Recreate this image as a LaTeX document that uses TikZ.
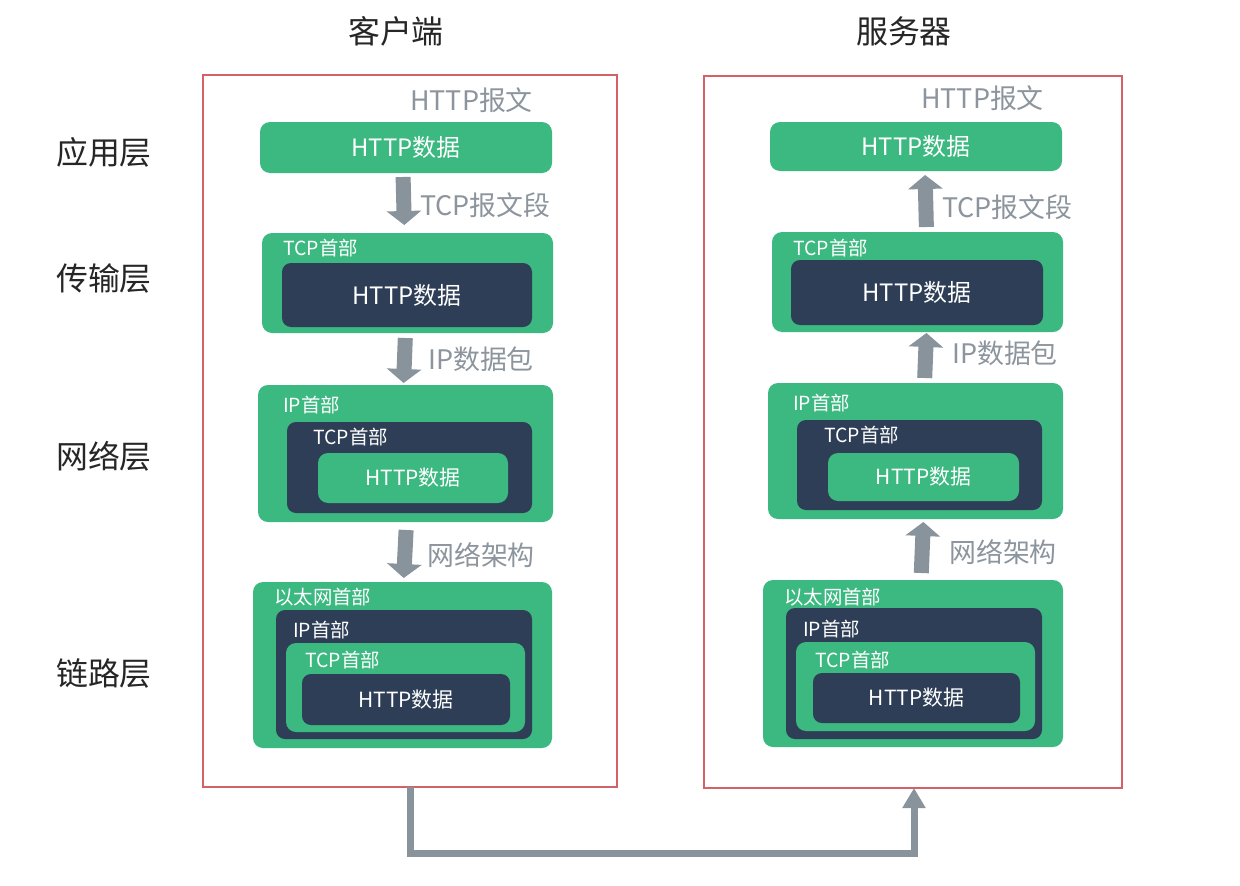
\documentclass[tikz,border=0pt]{standalone}
\usepackage{fontspec}
\setmainfont{Noto Sans CJK SC}
\usetikzlibrary{arrows.meta,calc}
\definecolor{gboxc}{RGB}{60,184,129}
\definecolor{dboxc}{RGB}{46,62,86}
\definecolor{redc}{RGB}{212,96,104}
\definecolor{greyc}{RGB}{136,147,156}
\definecolor{lblc}{RGB}{140,149,157}
\newcommand{\fs}[1]{\fontsize{#1}{#1}\selectfont}
\tikzset{
  boxbase/.style={rectangle, inner sep=0, outer sep=0, anchor=north west},
  gbox/.style={boxbase, fill=gboxc, rounded corners=10bp},
  dbox/.style={boxbase, fill=dboxc, rounded corners=9bp},
  framebox/.style={boxbase, draw=redc, line width=2.5bp},
  bigtxt/.style={text=white, font=\fs{24}},
  midtxt/.style={text=white, font=\fs{21}},
  smalltxt/.style={text=white, font=\fs{19.5}, anchor=west, inner sep=0},
  graytxt/.style={text=lblc, font=\fs{27}, anchor=west, inner sep=0},
  titletxt/.style={text=black!85, font=\fs{32}},
  blockarrow/.style={draw=greyc, line width=15bp, -{Triangle[width=34bp,length=14bp]}},
  conn/.style={draw=greyc, line width=7bp, -{Triangle[width=22bp,length=20bp]}},
}
\newcommand{\bx}[6]{\node[#1, minimum width={(#5-#3)*1bp}, minimum height={(#6-#4)*1bp}] (#2) at (#3,#4) {};}
\begin{document}
\begin{tikzpicture}[x=1bp,y=-1bp]
\path[use as bounding box, fill=white] (0,0) rectangle (1240,886);

% titles
\node[titletxt] (tc) at (396,31) {客户端};
\node[titletxt] (ts) at (904,31) {服务器};
\node[titletxt] (l1) at (104,152) {应用层};
\node[titletxt] (l2) at (104,278) {传输层};
\node[titletxt] (l3) at (104,456) {网络层};
\node[titletxt] (l4) at (104,673) {链路层};

% frames
\bx{framebox}{client}{203}{75}{617}{787}
\bx{framebox}{server}{704}{76}{1122}{788}

% ---------------- client
\node[graytxt] (cl0) at (410,100) {HTTP报文};
\bx{gbox}{capp}{260}{122}{552}{173}
\node[bigtxt] at (capp.center) {HTTP数据};

\bx{gbox}{ctr}{262}{233}{553}{333}
\node[smalltxt] at (283,248) {TCP首部};
\bx{dbox}{ctrd}{282}{263}{532}{327}
\node[bigtxt] at (ctrd.center) {HTTP数据};

\bx{gbox}{cnet}{258}{385}{553}{522}
\node[smalltxt] at (283,405) {IP首部};
\bx{dbox}{cnetd}{287}{422}{532}{513}
\node[smalltxt] at (313,437) {TCP首部};
\bx{gbox}{cnetg}{318}{453}{508}{503}
\node[midtxt] at (cnetg.center) {HTTP数据};

\bx{gbox}{clink}{253}{582}{552}{748}
\node[smalltxt] at (274,597) {以太网首部};
\bx{dbox}{clinkd}{276}{610}{532}{739}
\node[smalltxt] at (293,630) {IP首部};
\bx{gbox}{clinkg}{286}{643}{525}{732}
\node[smalltxt] at (305,660) {TCP首部};
\bx{dbox}{clinkh}{302}{674}{510}{725}
\node[midtxt] at (clinkh.center) {HTTP数据};

\draw[blockarrow, shorten <=4bp, shorten >=8bp] ([xshift=-3bp]capp.south) -- ([xshift=-3bp]ctr.north);
\node[graytxt] (cl1) at (420,205) {TCP报文段};
\draw[blockarrow, shorten <=5bp, shorten >=2bp] ([xshift=-2bp]ctr.south) -- ([xshift=-2bp]cnet.north);
\node[graytxt] (cl2) at (428,359) {IP数据包};
\draw[blockarrow, shorten <=8bp, shorten >=4bp] ([xshift=1bp]cnet.south) -- ([xshift=1bp]clink.north);
\node[graytxt] (cl3) at (427,555) {网络架构};

% ---------------- server
\node[graytxt] (sl0) at (921,98) {HTTP报文};
\bx{gbox}{sapp}{770}{122}{1062}{171}
\node[bigtxt] at (sapp.center) {HTTP数据};

\bx{gbox}{str}{772}{232}{1063}{332}
\node[smalltxt] at (793,248) {TCP首部};
\bx{dbox}{strd}{791}{260}{1043}{325}
\node[bigtxt] at (strd.center) {HTTP数据};

\bx{gbox}{snet}{768}{383}{1063}{519}
\node[smalltxt] at (793,403) {IP首部};
\bx{dbox}{snetd}{797}{420}{1042}{510}
\node[smalltxt] at (824,435) {TCP首部};
\bx{gbox}{snetg}{828}{453}{1019}{501}
\node[midtxt] at (snetg.center) {HTTP数据};

\bx{gbox}{slink}{763}{580}{1063}{747}
\node[smalltxt] at (784,597) {以太网首部};
\bx{dbox}{slinkd}{786}{608}{1042}{739}
\node[smalltxt] at (803,629) {IP首部};
\bx{gbox}{slinkg}{796}{642}{1035}{731}
\node[smalltxt] at (815,660) {TCP首部};
\bx{dbox}{slinkh}{813}{673}{1020}{723}
\node[midtxt] at (slinkh.center) {HTTP数据};

\draw[blockarrow, shorten <=5bp, shorten >=4bp] ([xshift=9bp]str.north) -- ([xshift=9bp]sapp.south);
\node[graytxt] (sl1) at (942,207) {TCP报文段};
\draw[blockarrow, shorten <=5bp, shorten >=1bp] ([xshift=9bp]snet.north) -- ([xshift=9bp]str.south);
\node[graytxt] (sl2) at (952,353) {IP数据包};
\draw[blockarrow, shorten <=7bp, shorten >=3bp] ([xshift=8bp]slink.north) -- ([xshift=8bp]snet.south);
\node[graytxt] (sl3) at (949,552) {网络架构};

% bottom connector
\draw[conn] (client.south) -- ++(0,66) -| ([xshift=1bp]server.south);
\end{tikzpicture}
\end{document}
